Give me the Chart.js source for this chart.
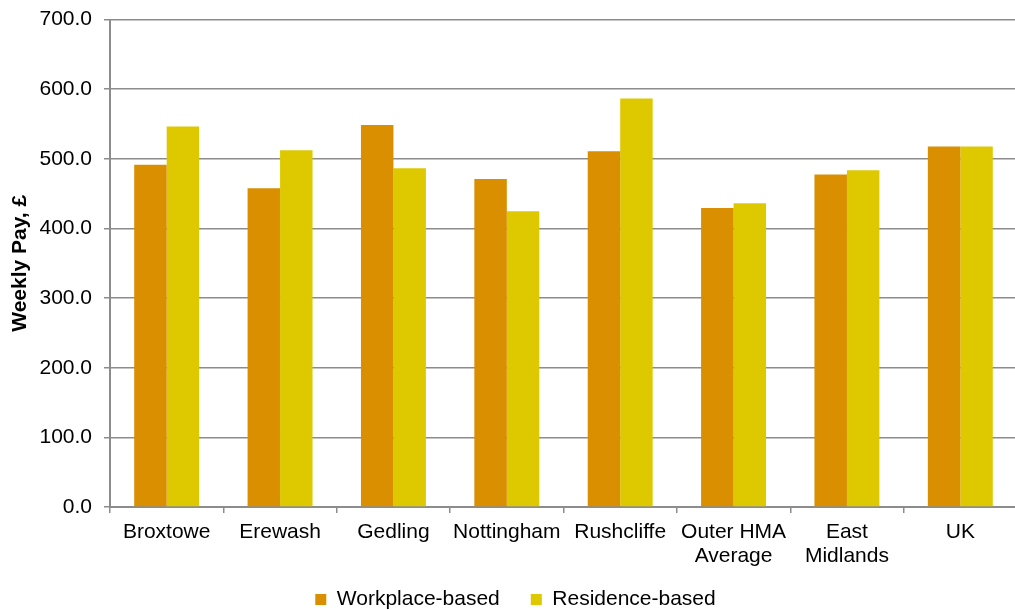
<!DOCTYPE html>
<html>
<head>
<meta charset="utf-8">
<script src="https://cdn.jsdelivr.net/npm/chart.js@4"></script>
<style>
html,body{margin:0;padding:0;background:#fff;overflow:hidden;}
#wrap{position:relative;width:1018px;height:625px;margin-top:-5px;}
</style>
</head>
<body>
<div id="wrap"><canvas id="c"></canvas></div>
<script>
const categories = ['Broxtowe', 'Erewash', 'Gedling', 'Nottingham', 'Rushcliffe', ['Outer HMA', 'Average'], ['East', 'Midlands'], 'UK'];
const workplaceBased = [491.4, 457.8, 548.5, 471.2, 511.0, 429.5, 477.4, 517.7];
const residenceBased = [546.5, 512.5, 486.6, 424.7, 586.8, 436.3, 483.7, 517.7];
const seriesNames = ['Workplace-based', 'Residence-based'];
const yTicks = [0, 100, 200, 300, 400, 500, 600, 700];

const FONT = '"Liberation Sans", Arial, Helvetica, sans-serif';
const FS = 21;

new Chart(document.getElementById('c'), {
  type: 'bar',
  data: {
    labels: categories,
    datasets: [
      { label: seriesNames[0], data: workplaceBased, backgroundColor: '#D98F00', borderWidth: 0,
        categoryPercentage: 0.573, barPercentage: 1.0 },
      { label: seriesNames[1], data: residenceBased, backgroundColor: '#DEC900', borderWidth: 0,
        categoryPercentage: 0.573, barPercentage: 1.0 }
    ]
  },
  options: {
    responsive: true,
    maintainAspectRatio: false,
    animation: false,
    layout: { padding: { left: 14, right: 1, top: 4, bottom: 0 } },
    plugins: {
      tooltip: { enabled: false },
      legend: {
        position: 'bottom',
        labels: {
          boxWidth: 11, boxHeight: 11, padding: 31,
          color: '#000', font: { family: FONT, size: FS }
        }
      }
    },
    scales: {
      x: {
        afterFit: (s) => { s.height = 51; s._computeLabelArea = () => undefined; },
        grid: { display: true, offset: true, drawOnChartArea: false, drawTicks: true, tickLength: 6, color: '#8c8c8c', lineWidth: 1.5 },
        border: { display: true, color: '#8c8c8c', width: 2 },
        ticks: { color: '#000', font: { family: FONT, size: FS, lineHeight: 1.14 }, padding: 7, maxRotation: 0, autoSkip: false }
      },
      y: {
        min: 0, max: 700,
        afterFit: (s) => { s.width = 96; },
        afterBuildTicks: (s) => { s.ticks = yTicks.map(v => ({ value: v })); },
        grid: { color: '#8c8c8c', lineWidth: 1.5, tickLength: 6 },
        border: { display: true, color: '#8c8c8c', width: 2 },
        ticks: { color: '#000', font: { family: FONT, size: FS }, padding: 12,
          callback: (v) => Number(v).toFixed(1) },
        title: { display: true, text: 'Weekly Pay, £', color: '#000',
          font: { family: FONT, size: FS, weight: 'bold' }, padding: { top: -6, bottom: 4 } }
      }
    }
  }
});
</script>
</body>
</html>
